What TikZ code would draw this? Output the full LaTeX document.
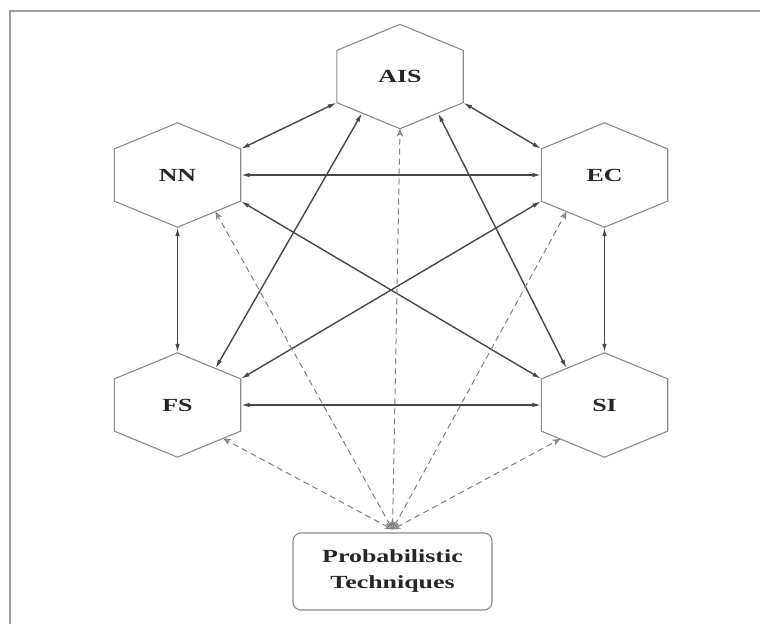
\documentclass[tikz,border=0pt]{standalone}
\usepackage{fontspec}
\setmainfont{Liberation Serif}
\newfontfamily\labelfont[FakeStretch=1.4]{Liberation Serif}
\usetikzlibrary{arrows.meta,calc}

\definecolor{hexgray}{gray}{0.55}
\definecolor{linkgray}{gray}{0.28}
\definecolor{dashgray}{gray}{0.5}
\definecolor{framegray}{gray}{0.62}

\begin{document}
\begin{tikzpicture}[x=1pt,y=-1pt,
  hexnode/.style={rectangle, minimum width=126pt, minimum height=104pt, inner sep=0pt,
    font=\labelfont\bfseries\fontsize{18.5}{22}\selectfont, text=black!85},
  hexline/.style={draw=hexgray, line width=1.1pt, line join=miter},
  boxnode/.style={draw=hexgray, line width=1.1pt, rounded corners=8pt,
    minimum width=199pt, minimum height=77pt, align=center, inner sep=0pt,
    font=\labelfont\bfseries\fontsize{18.5}{26}\selectfont, text=black!85},
  link/.style={draw=linkgray, line width=1.4pt,
    {Latex[length=9pt,width=4.5pt]}-{Latex[length=9pt,width=4.5pt]}},
  dlink/.style={draw=dashgray, line width=1pt, dash pattern=on 6pt off 4pt,
    {Stealth[open,length=8pt,width=6.5pt]}-{Stealth[open,length=8pt,width=6.5pt]}},
]
% canvas and frame
\fill[white] (0,0) rectangle (760,624);
\useasboundingbox (0,0) rectangle (760,624);
\draw[framegray, line width=1.5pt] (10,624) -- (10,11) -- (760,11);

% hexagonal nodes
\node[hexnode] (ais) at (400,76.5) {AIS};
\node[hexnode] (nn)  at (177.5,175) {NN};
\node[hexnode] (ec)  at (604.5,175) {EC};
\node[hexnode] (fs)  at (177.5,405) {FS};
\node[hexnode] (si)  at (604.5,405) {SI};

% side corners of each hexagon and its outline
\foreach \n in {ais,nn,ec,fs,si}{
  \coordinate (\n-ur) at ($(\n.north east)!0.25!(\n.south east)$);
  \coordinate (\n-lr) at ($(\n.north east)!0.75!(\n.south east)$);
  \coordinate (\n-ul) at ($(\n.north west)!0.25!(\n.south west)$);
  \coordinate (\n-ll) at ($(\n.north west)!0.75!(\n.south west)$);
  \draw[hexline] (\n.north) -- (\n-ur) -- (\n-lr) -- (\n.south)
    -- (\n-ll) -- (\n-ul) -- cycle;
}

% probabilistic techniques box
\node[boxnode] (prob) at (392.5,571.5) {Probabilistic\\Techniques};
\coordinate (hub) at ($(prob.north)+(0,-3)$);

% solid two-way links between the paradigms
\draw[link] (ais-ll) -- (nn-ur);
\draw[link] (ais-lr) -- (ec-ul);
\draw[link] (nn.east) -- (ec.west);
\draw[link] (nn.south) -- (fs.north);
\draw[link] (ec.south) -- (si.north);
\draw[link] (fs.east) -- (si.west);
\draw[link] ($(ais-ll)!0.4!(ais.south)$) -- ($(fs.north)!0.6!(fs-ur)$);
\draw[link] ($(ais-lr)!0.4!(ais.south)$) -- ($(si.north)!0.6!(si-ul)$);
\draw[link] (nn-lr) -- (si-ul);
\draw[link] (ec-ll) -- (fs-ur);

% dashed links to the probabilistic techniques
\draw[dlink] (hub) -- ($(nn.south)!0.6!(nn-lr)$);
\draw[dlink] (hub) -- (ais.south);
\draw[dlink] (hub) -- ($(ec.south)!0.6!(ec-ll)$);
\draw[dlink] (hub) -- ($(fs-lr)!0.28!(fs.south)$);
\draw[dlink] (hub) -- ($(si-ll)!0.3!(si.south)$);
\end{tikzpicture}
\end{document}
